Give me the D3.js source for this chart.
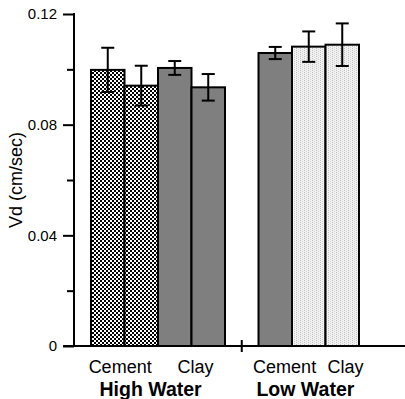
<!DOCTYPE html>
<html>
<head>
<meta charset="utf-8">
<script src="https://cdn.jsdelivr.net/npm/d3@7"></script>
<style>
  html, body { margin: 0; padding: 0; background: #fff; }
  svg { display: block; font-family: "Liberation Sans", Arial, Helvetica, sans-serif; }
</style>
</head>
<body>
<svg id="chart" width="405" height="399"></svg>
<script>
// ---- data ----
const barGroup = ["High Water", "High Water", "High Water", "High Water", "Low Water", "Low Water", "Low Water"];
const values   = [0.0998, 0.0941, 0.1005, 0.0935, 0.1059, 0.1082, 0.1089];
const errors   = [0.0080, 0.0072, 0.0025, 0.0048, 0.0022, 0.0055, 0.0077];
const groups   = ["High Water", "Low Water"];
const catLabels = ["Cement", "Clay", "Cement", "Clay"];
const catSlots  = [0.87, 3.12, 5.78, 7.6];     // label position in bar-slot units
const groupSlots = [1.78, 6.4];
const majorTicks = [0, 0.04, 0.08, 0.12];
const majorTickLabels = ["0", "0.04", "0.08", "0.12"];
const minorTicks = [0.02, 0.06, 0.10];
const yTitle = "Vd (cm/sec)";

// ---- styles ----
const barPattern = ["url(#cross)", "url(#cross)", "#7f7f7f", "#7f7f7f", "#7f7f7f", "url(#light)", "url(#light)"];

const svg = d3.select("#chart");
const defs = svg.append("defs");
const p1 = defs.append("pattern").attr("id", "cross").attr("patternUnits", "userSpaceOnUse")
  .attr("width", 4).attr("height", 4);
p1.append("rect").attr("width", 4).attr("height", 4).attr("fill", "#fff");
p1.append("rect").attr("x", 0).attr("y", 0).attr("width", 2).attr("height", 2).attr("fill", "#000");
p1.append("rect").attr("x", 2).attr("y", 2).attr("width", 2).attr("height", 2).attr("fill", "#000");
const p2 = defs.append("pattern").attr("id", "light").attr("patternUnits", "userSpaceOnUse")
  .attr("width", 4).attr("height", 2);
p2.append("rect").attr("width", 4).attr("height", 2).attr("fill", "#f2f2f2");
p2.append("rect").attr("x", 0).attr("y", 0).attr("width", 1).attr("height", 1).attr("fill", "#bdbdbd");
p2.append("rect").attr("x", 2).attr("y", 1).attr("width", 1).attr("height", 1).attr("fill", "#d0d0d0");

// ---- scales ----
const slotOf = values.map((v, i) => i + groups.indexOf(barGroup[i]));
const x = d3.scaleLinear().domain([0, 8]).range([91, 359]);
const y = d3.scaleLinear().domain([0, 0.12]).range([346, 14]);
const bw = x(1) - x(0);

// ---- bars ----
svg.append("g").selectAll("rect").data(values).join("rect")
  .attr("x", (d, i) => x(slotOf[i]))
  .attr("y", d => y(d))
  .attr("width", bw)
  .attr("height", d => y(0) - y(d))
  .attr("fill", (d, i) => barPattern[i])
  .attr("stroke", "#000")
  .attr("stroke-width", 2);

// ---- error bars ----
const eg = svg.append("g").attr("stroke", "#000").attr("stroke-width", 2);
values.forEach((v, i) => {
  const cx = x(slotOf[i] + 0.5);
  eg.append("line").attr("x1", cx).attr("x2", cx).attr("y1", y(v + errors[i])).attr("y2", y(v - errors[i]));
  eg.append("line").attr("x1", cx - 6.5).attr("x2", cx + 6.5).attr("y1", y(v + errors[i])).attr("y2", y(v + errors[i]));
  eg.append("line").attr("x1", cx - 6.5).attr("x2", cx + 6.5).attr("y1", y(v - errors[i])).attr("y2", y(v - errors[i]));
});

// ---- y axis ----
const axX = 74;
const yMajor = d3.axisLeft(y).tickValues(majorTicks).tickSize(11).tickPadding(6)
  .tickFormat((d, i) => majorTickLabels[i]);
const gy = svg.append("g").attr("transform", `translate(${axX},0)`).call(yMajor);
gy.select(".domain").remove();
gy.selectAll(".tick line").attr("stroke", "#000").attr("stroke-width", 2);
gy.selectAll(".tick text").attr("font-size", 15).attr("fill", "#000")
  .attr("font-family", "Liberation Sans, Arial, sans-serif");
const yMinor = d3.axisLeft(y).tickValues(minorTicks).tickSize(7).tickFormat("");
const gym = svg.append("g").attr("transform", `translate(${axX},0)`).call(yMinor);
gym.select(".domain").remove();
gym.selectAll(".tick line").attr("stroke", "#000").attr("stroke-width", 2);
svg.append("line").attr("x1", axX).attr("x2", axX).attr("y1", y(0.12) - 1).attr("y2", y(0))
  .attr("stroke", "#000").attr("stroke-width", 2);

// ---- x axis ----
svg.append("line").attr("x1", 63).attr("x2", 405).attr("y1", y(0)).attr("y2", y(0))
  .attr("stroke", "#000").attr("stroke-width", 2);
svg.append("line").attr("x1", x(4.5)).attr("x2", x(4.5)).attr("y1", y(0) - 6).attr("y2", y(0) + 6)
  .attr("stroke", "#000").attr("stroke-width", 2);

svg.append("g").selectAll("text").data(catLabels).join("text")
  .attr("x", (d, i) => x(catSlots[i]))
  .attr("y", 373)
  .attr("text-anchor", "middle")
  .attr("font-size", 18)
  .text(d => d);

svg.append("g").selectAll("text").data(groups).join("text")
  .attr("x", (d, i) => x(groupSlots[i]))
  .attr("y", 396)
  .attr("text-anchor", "middle")
  .attr("font-size", 19.5)
  .attr("font-weight", "bold")
  .text(d => d);

// ---- y title ----
svg.append("text")
  .attr("transform", "translate(22,180) rotate(-90)")
  .attr("text-anchor", "middle")
  .attr("font-size", 18)
  .text(yTitle);
</script>
</body>
</html>
